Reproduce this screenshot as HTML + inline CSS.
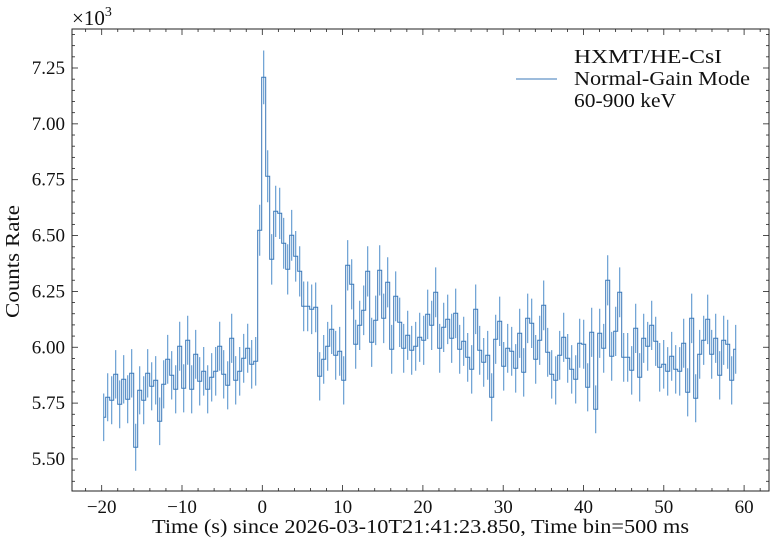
<!DOCTYPE html>
<html><head><meta charset="utf-8"><style>
html,body{margin:0;padding:0;background:#fff;}
svg{display:block;font-family:"Liberation Serif",serif;}
</style></head><body>
<svg id="s" width="774" height="545" viewBox="0 0 774 545" xmlns="http://www.w3.org/2000/svg">
<rect width="774" height="545" fill="#fff"/>
<g id="data"></g>
<rect x="72" y="29" width="697" height="462" fill="none" stroke="#222" stroke-width="1"/>
<g id="ticks" stroke="#222" stroke-width="0.8"></g>
<g id="labels" font-size="19" fill="#111"></g>
<text x="72" y="25" font-size="21" fill="#111">×10<tspan dy="-9" font-size="14">3</tspan></text>
<text x="152" y="533" font-size="20" fill="#111" textLength="537" lengthAdjust="spacingAndGlyphs">Time (s) since 2026-03-10T21:41:23.850, Time bin=500 ms</text>
<text transform="translate(19,318) rotate(-90)" font-size="20" fill="#111" textLength="113" lengthAdjust="spacingAndGlyphs">Counts Rate</text>
<line x1="516" y1="79" x2="557" y2="79" stroke="#3b78b8" stroke-width="1"/>
<text x="574" y="63" font-size="20" fill="#111" textLength="148" lengthAdjust="spacingAndGlyphs">HXMT/HE-CsI</text>
<text x="574" y="85" font-size="20" fill="#111" textLength="176" lengthAdjust="spacingAndGlyphs">Normal-Gain Mode</text>
<text x="574" y="107" font-size="20" fill="#111" textLength="102" lengthAdjust="spacingAndGlyphs">60-900 keV</text>
</svg>
<script>
var L=[417.3,397.3,400.3,374.3,404.3,379.3,399.3,373.3,447.3,390.3,400.3,373.3,386.3,380.3,421.3,384.3,359.3,375.3,389.3,346.3,388.3,340.3,389.3,354.3,381.3,371.3,389.3,377.3,371.3,346.3,374.3,385.3,338.3,380.3,371.3,358.3,348.3,364.3,361.3,230.3];
var z2=[112,409,658,514,520,610,688,586,649,694,799,799,808,802,1009,958,919,868,946,934,1021,676,733,913,856,811,694,907,841,691,835,727,928,769,847,925,886,931,919,892,901,823,856,757,925,862];
z2.forEach(function(v){L.push(40+v/3);});
var z3=[208,265,190,298,274,322,358,178,301,337,316,442,268,214,349,295,304,355,250,367,205,220,328,271,166,307,373,391,316,262,325,358,388,280,283,412,247];
z3.forEach(function(v){L.push(250+v/3);});
var z4=[478,250,295,91,319,244,127,322,322,361,235,382,265,289,226,274,352,343,364,319,358,364,280,427,205,445,313,271,208,313,265,376,271,283,391,298];
z4.forEach(function(v){L.push(250+v/3);});
var ns="http://www.w3.org/2000/svg",g=document.getElementById('data');
function el(t,a,p){var e=document.createElementNS(ns,t);for(var k in a)e.setAttribute(k,a[k]);(p||g).appendChild(e);return e;}
var d="",eb="";
for(var i=0;i<L.length;i++){
 var c=103.7+4*i,y=L[i];
 var x0=(i==0)?c:c-2,x1=(i==L.length-1)?c:c+2;
 d+=(i==0?"M":"L")+x0.toFixed(1)+","+y.toFixed(1)+"L"+x1.toFixed(1)+","+y.toFixed(1);
 var v=7.25-(y-68)/223.4;var e=Math.sqrt(v*500)/0.5/1000*223.4;
 eb+="M"+c.toFixed(1)+","+(y-e).toFixed(1)+"V"+(y+e).toFixed(1);
}
el('path',{d:eb,stroke:'#5d97cf',"stroke-width":1.1,fill:'none'});
el('path',{d:d,stroke:'#3b78b8',"stroke-width":1,fill:'none'});
var T=document.getElementById('ticks'),Lb=document.getElementById('labels');
function X(t){return 101.7+(t+20)*8.03;}
function Y(v){return 68+(7.25-v)*223.4;}
for(var t=-24;t<=62;t+=2){var x=X(t);if(x<72||x>769)continue;var maj=(t%10==0);var len=maj?6:3;
 el('line',{x1:x,y1:491,x2:x,y2:491-len},T);el('line',{x1:x,y1:29,x2:x,y2:29+len},T);
 if(maj){var tx=el('text',{x:x,y:513,"text-anchor":"middle"},Lb);tx.textContent=(t<0?"\u2212":"")+Math.abs(t);}}
for(var k=0;k<=45;k++){var v=5.35+k*0.05;var y=Y(v);if(y<29||y>491)continue;var maj=(k%5==3);var len=maj?6:3;
 el('line',{x1:72,y1:y,x2:72+len,y2:y},T);el('line',{x1:769,y1:y,x2:769-len,y2:y},T);
 if(maj){var tx=el('text',{x:65,y:y+6,"text-anchor":"end"},Lb);tx.textContent=v.toFixed(2);}}
</script>
</body></html>
